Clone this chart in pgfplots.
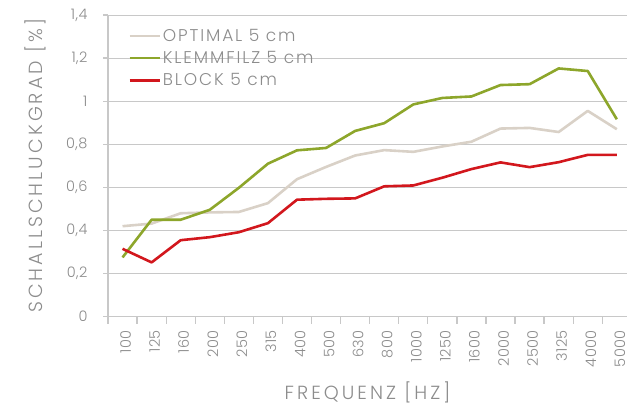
\documentclass[border=0pt]{standalone}
\usepackage{pgfplots}
\pgfplotsset{compat=1.18}
\usepackage{fontspec}
\setmainfont{Poppins Light}
\newfontfamily\spaced{Poppins Light}[LetterSpace=16]
\newfontfamily\spacedleg{Poppins Light}[LetterSpace=11]
\newfontfamily\spacedsm{Poppins Light}[LetterSpace=3]
\definecolor{txt}{HTML}{8C8C8C}
\definecolor{grd}{HTML}{C8C8C8}
\definecolor{opt}{HTML}{D9D1C7}
\definecolor{kle}{HTML}{8DA62B}
\definecolor{blk}{HTML}{D2171D}
\begin{document}
\begin{tikzpicture}
\begin{axis}[
  at={(108bp,88.3bp)}, anchor=south west,
  scale only axis, width=519bp, height=301.7bp,
  xmin=-0.5, xmax=17.35, ymin=0, ymax=1.4,
  axis x line*=bottom, axis y line*=left,
  axis line style={grd, line width=1.3bp},
  ytick={0,0.2,0.4,0.6,0.8,1,1.2,1.4},
  ymajorgrids, grid style={grd, line width=0.9bp},
  xtick={0,...,17},
  xticklabels={100,125,160,200,250,315,400,500,630,800,1000,1250,1600,2000,2500,3125,4000,5000},
  minor xtick={-0.5,0.5,...,16.5},
  major x tick style={draw=none},
  minor x tick style={grd, line width=1.3bp},
  major y tick style={grd, line width=1.3bp},
  tick align=outside,
  major tick length=5bp, minor tick length=7bp,
  /pgf/number format/.cd, use comma, fixed, precision=1, assume math mode=true,
  /pgfplots/.cd,
  tick label style={text=txt, font=\spacedsm\fontsize{14.5bp}{17bp}\selectfont},
  yticklabel style={xshift=-12bp},
  xticklabel style={rotate=90, anchor=east, yshift=-3bp, xshift=-5bp},
  xlabel={FREQUENZ [HZ]},
  ylabel={SCHALLSCHLUCKGRAD [\%]},
  label style={text=txt, font=\spaced\fontsize{19bp}{21bp}\selectfont},
  xlabel style={at={(axis description cs:0.5,0)}, anchor=base, yshift=-83bp},
  ylabel style={at={(axis description cs:-0.1253,0.5)}, anchor=base},
  legend style={draw=none, fill=none, at={(rel axis cs:0.033,0.967)}, anchor=north west,
    font=\spacedleg\fontsize{17bp}{19bp}\selectfont, text=txt, row sep=4.5bp,
    /tikz/every even column/.append style={column sep=0bp}},
  legend cell align=left,
  legend image code/.code={\draw[#1] (0bp,0bp) -- (30bp,0bp);},
  every axis plot/.append style={line width=2.6bp, line join=round},
]
\addplot[opt] coordinates {(0,0.42)(1,0.432)(2,0.48)(3,0.484)(4,0.486)(5,0.527)(6,0.638)(7,0.695)(8,0.748)(9,0.773)(10,0.765)(11,0.79)(12,0.812)(13,0.873)(14,0.876)(15,0.857)(16,0.955)(17,0.87)};
\addlegendentry{OPTIMAL 5 cm}
\addplot[kle] coordinates {(0,0.275)(1,0.45)(2,0.45)(3,0.496)(4,0.598)(5,0.71)(6,0.772)(7,0.783)(8,0.862)(9,0.898)(10,0.985)(11,1.015)(12,1.022)(13,1.075)(14,1.079)(15,1.152)(16,1.14)(17,0.916)};
\addlegendentry{KLEMMFILZ 5 cm}
\addplot[blk] coordinates {(0,0.315)(1,0.252)(2,0.355)(3,0.369)(4,0.392)(5,0.434)(6,0.543)(7,0.547)(8,0.549)(9,0.605)(10,0.609)(11,0.645)(12,0.685)(13,0.716)(14,0.694)(15,0.717)(16,0.751)(17,0.751)};
\addlegendentry{BLOCK 5 cm}
\end{axis}
\pgfresetboundingbox
\path[use as bounding box] (0,0) rectangle (636bp,405bp);
\end{tikzpicture}
\end{document}
